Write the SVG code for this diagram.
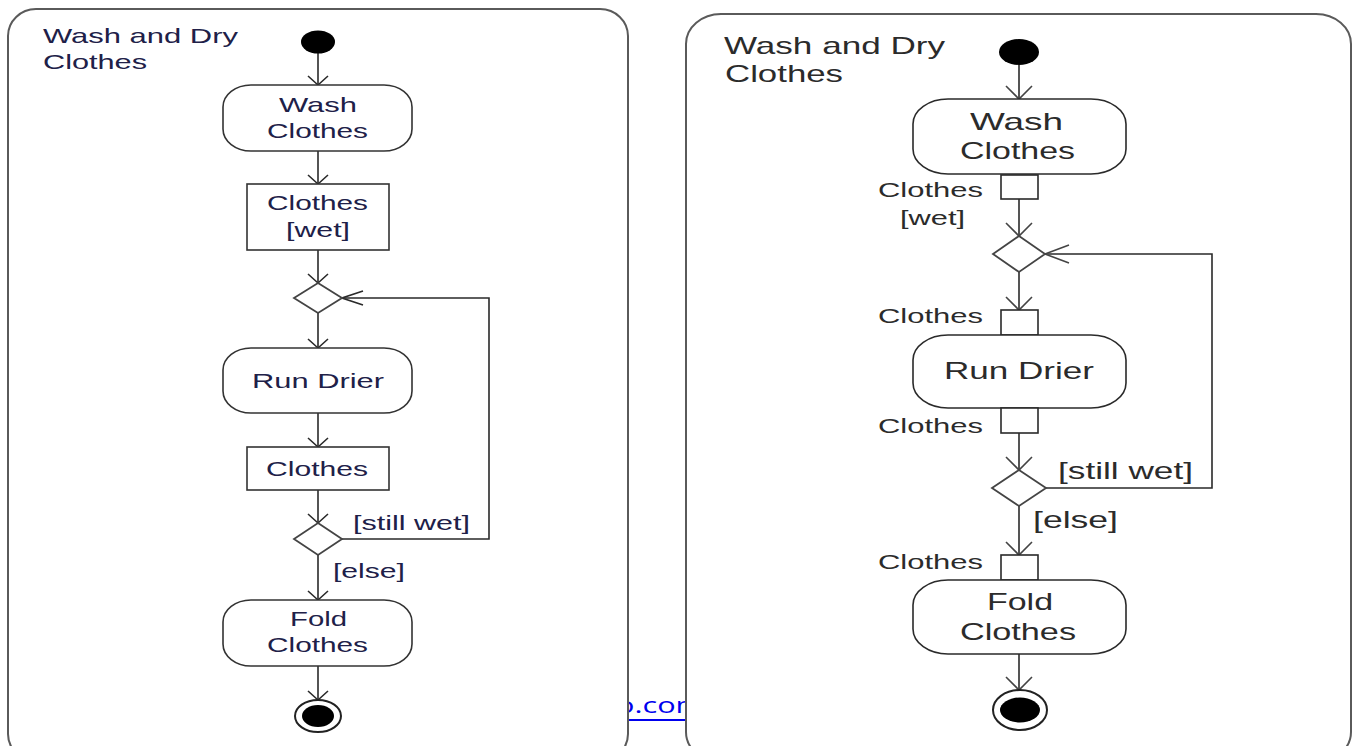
<svg xmlns="http://www.w3.org/2000/svg" width="1360" height="746" viewBox="0 0 1360 746">
  <style>
    .frame { fill: #ffffff; stroke: #5a5a5a; stroke-width: 2; }
    .node { fill: #ffffff; stroke: #333333; stroke-width: 1.6; }
    .nodeR { fill: #ffffff; stroke: #2a2a2a; stroke-width: 1.6; }
    .dia { fill: #ffffff; stroke: #444444; stroke-width: 1.8; }
    .solid { fill: #000000; }
    .ring { fill: #ffffff; stroke: #222222; stroke-width: 2; }
    .edge { fill: none; stroke: #2a2a2a; stroke-width: 1.6; }
    .edgeR { fill: none; stroke: #555555; stroke-width: 2; }
    .tL { font-family: "Liberation Sans", Arial, sans-serif; font-size: 21px; fill: #202048; }
    .tR { font-family: "Liberation Sans", Arial, sans-serif; font-size: 24px; fill: #2b2b2b; }
    .tRs { font-family: "Liberation Sans", Arial, sans-serif; font-size: 21px; fill: #2b2b2b; }
    .link { font-family: "Open Sans", "Liberation Sans", sans-serif; font-size: 21px; fill: #0000ee; }
  </style>
  <defs>
    <marker id="vL" markerUnits="userSpaceOnUse" markerWidth="24" markerHeight="24" viewBox="-12 -12 24 24" refX="0" refY="0" orient="auto">
      <path d="M-9,-10 L0,0 L-9,10" fill="none" stroke="#2a2a2a" stroke-width="1.6"/>
    </marker>
    <marker id="hL" markerUnits="userSpaceOnUse" markerWidth="26" markerHeight="20" viewBox="-24 -10 26 20" refX="0" refY="0" orient="auto">
      <path d="M-21,-7 L0,0 L-21,7" fill="none" stroke="#2a2a2a" stroke-width="1.6"/>
    </marker>
    <marker id="vR" markerUnits="userSpaceOnUse" markerWidth="30" markerHeight="30" viewBox="-15 -15 30 30" refX="0" refY="0" orient="auto">
      <path d="M-13,-13 L0,0 L-13,13" fill="none" stroke="#444444" stroke-width="1.6"/>
    </marker>
    <marker id="hR" markerUnits="userSpaceOnUse" markerWidth="30" markerHeight="22" viewBox="-27 -11 30 22" refX="0" refY="0" orient="auto">
      <path d="M-24,-9 L0,0 L-24,9" fill="none" stroke="#444444" stroke-width="1.6"/>
    </marker>
  </defs>

  <rect width="1360" height="746" fill="#ffffff"/>

  <!-- link text, partly covered by the two frames -->
  <g id="link">
    <text class="link" x="616" y="713" textLength="88" lengthAdjust="spacingAndGlyphs">o.com</text>
    <line x1="616" y1="720" x2="704" y2="720" stroke="#0000ee" stroke-width="2"/>
  </g>

  <!-- left activity frame -->
  <g id="frameLeft">
    <rect class="frame" x="8" y="9" width="620" height="752" rx="28" ry="27"/>
    <text class="tL" x="43" y="43" textLength="195" lengthAdjust="spacingAndGlyphs">Wash and Dry</text>
    <text class="tL" x="43" y="69" textLength="104" lengthAdjust="spacingAndGlyphs">Clothes</text>
  </g>

  <!-- right activity frame -->
  <g id="frameRight">
    <rect class="frame" x="686" y="14" width="665" height="748" rx="35" ry="30"/>
    <text class="tR" x="724" y="54" textLength="221" lengthAdjust="spacingAndGlyphs">Wash and Dry</text>
    <text class="tR" x="725" y="82" textLength="118" lengthAdjust="spacingAndGlyphs">Clothes</text>
  </g>

  <!-- connectors -->
  <g id="connectors">
    <!-- left flow -->
    <line class="edge" x1="318" y1="53" x2="318" y2="85" marker-end="url(#vL)"/>
    <line class="edge" x1="318" y1="151" x2="318" y2="184" marker-end="url(#vL)"/>
    <line class="edge" x1="318" y1="250" x2="318" y2="283" marker-end="url(#vL)"/>
    <line class="edge" x1="318" y1="313" x2="318" y2="348" marker-end="url(#vL)"/>
    <line class="edge" x1="318" y1="413" x2="318" y2="447" marker-end="url(#vL)"/>
    <line class="edge" x1="318" y1="490" x2="318" y2="523" marker-end="url(#vL)"/>
    <line class="edge" x1="318" y1="555" x2="318" y2="600" marker-end="url(#vL)"/>
    <line class="edge" x1="318" y1="666" x2="318" y2="700" marker-end="url(#vL)"/>
    <polyline class="edge" points="342,539 489,539 489,298 342,298" stroke="#555555" marker-end="url(#hL)"/>

    <!-- right flow -->
    <line class="edgeR" x1="1019" y1="65" x2="1019" y2="99" marker-end="url(#vR)"/>
    <line class="edgeR" x1="1019" y1="199" x2="1019" y2="236" marker-end="url(#vR)"/>
    <line class="edgeR" x1="1019" y1="272" x2="1019" y2="310" marker-end="url(#vR)"/>
    <line class="edgeR" x1="1019" y1="433" x2="1019" y2="470" marker-end="url(#vR)"/>
    <line class="edgeR" x1="1019" y1="506" x2="1019" y2="555" marker-end="url(#vR)"/>
    <line class="edgeR" x1="1019" y1="654" x2="1019" y2="690" marker-end="url(#vR)"/>
    <polyline class="edge" points="1045,488 1212,488 1212,254 1045,254" stroke="#222222" stroke-width="2" marker-end="url(#hR)"/>
  </g>

  <!-- left flow nodes -->
  <g id="startL"><ellipse class="solid" cx="318" cy="42" rx="17" ry="11.5"/></g>
  <g id="washL">
    <rect class="node" x="223" y="85" width="189" height="66" rx="28" ry="22"/>
    <text class="tL" x="279" y="112" textLength="78" lengthAdjust="spacingAndGlyphs">Wash</text>
    <text class="tL" x="267" y="138" textLength="101" lengthAdjust="spacingAndGlyphs">Clothes</text>
  </g>
  <g id="wetL">
    <rect class="node" x="247" y="184" width="142" height="66" stroke-width="2"/>
    <text class="tL" x="267" y="210" textLength="101" lengthAdjust="spacingAndGlyphs">Clothes</text>
    <text class="tL" x="286" y="237" textLength="64" lengthAdjust="spacingAndGlyphs">[wet]</text>
  </g>
  <g id="mergeL"><polygon class="dia" points="318,283 342,298 318,313 294,298"/></g>
  <g id="drierL">
    <rect class="node" x="223" y="348" width="189" height="65" rx="28" ry="22"/>
    <text class="tL" x="252" y="388" textLength="132" lengthAdjust="spacingAndGlyphs">Run Drier</text>
  </g>
  <g id="clothesL">
    <rect class="node" x="247" y="447" width="142" height="43" stroke-width="2"/>
    <text class="tL" x="266" y="476" textLength="102" lengthAdjust="spacingAndGlyphs">Clothes</text>
  </g>
  <g id="decisionL">
    <polygon class="dia" points="318,523 342,539 318,555 294,539"/>
    <text class="tL" x="353" y="530" textLength="117" lengthAdjust="spacingAndGlyphs">[still wet]</text>
    <text class="tL" x="333" y="578" textLength="72" lengthAdjust="spacingAndGlyphs">[else]</text>
  </g>
  <g id="foldL">
    <rect class="node" x="223" y="600" width="189" height="66" rx="28" ry="22"/>
    <text class="tL" x="290" y="626" textLength="57" lengthAdjust="spacingAndGlyphs">Fold</text>
    <text class="tL" x="267" y="652" textLength="101" lengthAdjust="spacingAndGlyphs">Clothes</text>
  </g>
  <g id="endL">
    <ellipse class="ring" cx="318" cy="716" rx="23" ry="16"/>
    <ellipse class="solid" cx="318" cy="716" rx="16" ry="11"/>
  </g>

  <!-- right flow nodes -->
  <g id="startR"><ellipse class="solid" cx="1019" cy="52" rx="20" ry="13"/></g>
  <g id="washR">
    <rect class="nodeR" x="913" y="99" width="213" height="75" rx="35" ry="25"/>
    <text class="tR" x="970" y="130" textLength="93" lengthAdjust="spacingAndGlyphs">Wash</text>
    <text class="tR" x="960" y="159" textLength="115" lengthAdjust="spacingAndGlyphs">Clothes</text>
  </g>
  <g id="pinWetR">
    <rect class="nodeR" x="1001" y="175" width="37" height="24" stroke-width="2"/>
    <text class="tRs" x="878" y="197" textLength="105" lengthAdjust="spacingAndGlyphs">Clothes</text>
    <text class="tRs" x="900" y="225" textLength="65" lengthAdjust="spacingAndGlyphs">[wet]</text>
  </g>
  <g id="mergeR"><polygon class="dia" points="1019,236 1045,254 1019,272 993,254"/></g>
  <g id="pinInR">
    <rect class="nodeR" x="1001" y="310" width="37" height="25" stroke-width="2"/>
    <text class="tRs" x="878" y="323" textLength="105" lengthAdjust="spacingAndGlyphs">Clothes</text>
  </g>
  <g id="drierR">
    <rect class="nodeR" x="913" y="335" width="213" height="73" rx="35" ry="25"/>
    <text class="tR" x="944" y="379" textLength="150" lengthAdjust="spacingAndGlyphs">Run Drier</text>
  </g>
  <g id="pinOutR">
    <rect class="nodeR" x="1001" y="408" width="37" height="25" stroke-width="2"/>
    <text class="tRs" x="878" y="433" textLength="105" lengthAdjust="spacingAndGlyphs">Clothes</text>
  </g>
  <g id="decisionR">
    <polygon class="dia" points="1019,470 1046,488 1019,506 992,488"/>
    <text class="tR" x="1058" y="479" font-size="22" textLength="135" lengthAdjust="spacingAndGlyphs">[still wet]</text>
    <text class="tR" x="1033" y="528" font-size="22" textLength="85" lengthAdjust="spacingAndGlyphs">[else]</text>
  </g>
  <g id="pinFoldR">
    <rect class="nodeR" x="1001" y="555" width="37" height="25" stroke-width="2"/>
    <text class="tRs" x="878" y="569" textLength="105" lengthAdjust="spacingAndGlyphs">Clothes</text>
  </g>
  <g id="foldR">
    <rect class="nodeR" x="913" y="580" width="213" height="74" rx="35" ry="25"/>
    <text class="tR" x="987" y="610" textLength="66" lengthAdjust="spacingAndGlyphs">Fold</text>
    <text class="tR" x="960" y="640" textLength="116" lengthAdjust="spacingAndGlyphs">Clothes</text>
  </g>
  <g id="endR">
    <ellipse class="ring" cx="1020" cy="710" rx="27" ry="20"/>
    <ellipse class="solid" cx="1020" cy="710" rx="20" ry="12.5"/>
  </g>
</svg>
